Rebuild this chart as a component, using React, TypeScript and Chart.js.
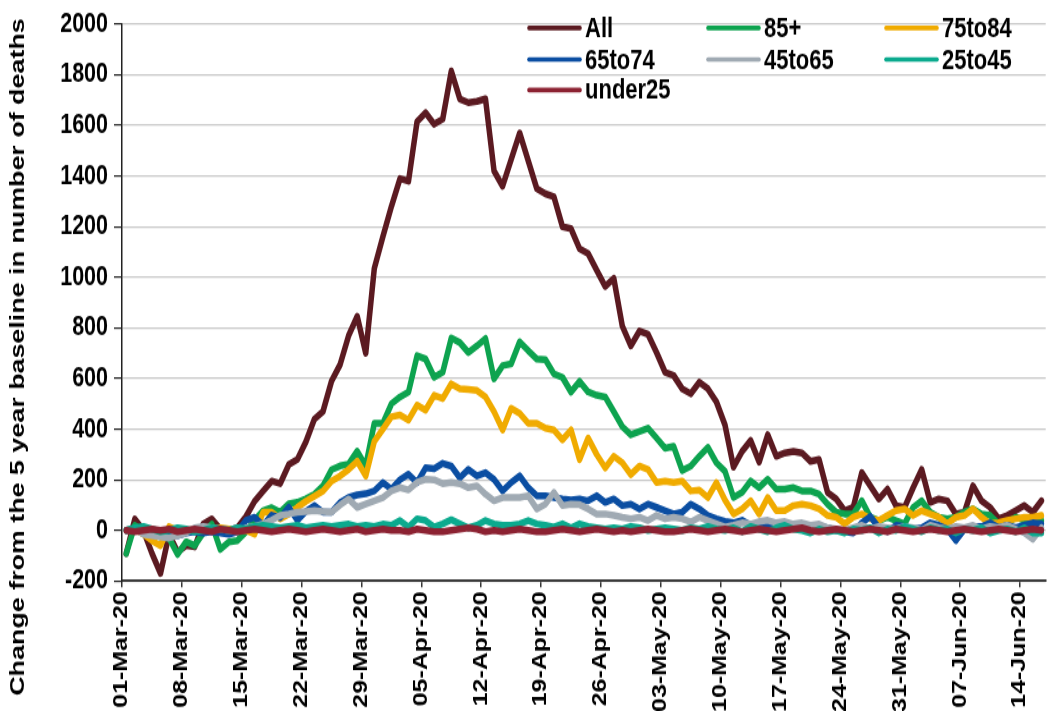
import React, { useEffect, useRef } from "react";
import { Chart, registerables } from "chart.js";

Chart.register(...registerables);

// Weekly tick labels (one every 7 days, starting 01-Mar-20)
const weekLabels = [
  "01-Mar-20", "08-Mar-20", "15-Mar-20", "22-Mar-20", "29-Mar-20", "05-Apr-20",
  "12-Apr-20", "19-Apr-20", "26-Apr-20", "03-May-20", "10-May-20", "17-May-20",
  "24-May-20", "31-May-20", "07-Jun-20", "14-Jun-20",
];
const dayCount = 108; // 01-Mar-20 .. 16-Jun-20

const seriesNames = ["All", "85+", "75to84", "65to74", "45to65", "25to45", "under25"];
const seriesColors = ["#5B1A21", "#0DA34F", "#F0AB00", "#0B4EA2", "#A0AAB3", "#0BAA8E", "#8C2232"];
const yTitle = "Change from the 5 year baseline in number of deaths";
const yMin = -200;
const yMax = 2000;
const yStep = 200;

const allAges = [
  -91, 45, 0, -90, -170, -15, -85, -60, -65, 25,
  45, 5, 0, 10, 55, 115, 155, 195, 185, 260,
  280, 350, 440, 470, 590, 655, 770, 846, 700, 1035,
  1160, 1280, 1390, 1380, 1615, 1650, 1605, 1625, 1815, 1705,
  1690, 1695, 1705, 1420, 1360, 1465, 1570, 1460, 1350, 1330,
  1318, 1200, 1192, 1113, 1094, 1028, 964, 996, 807, 729,
  788, 775, 703, 625, 612, 560, 540, 586, 560, 508,
  417, 250, 312, 355, 270, 378, 293, 306, 312, 306,
  273, 280, 150, 124, 78, 91, 228, 176, 124, 163,
  98, 91, 169, 241, 111, 124, 117, 65, 72, 176,
  117, 91, 46, 59, 78, 98, 72, 117,
];
const age85plus = [
  -91, 20, -5, -15, -25, -30, -95, -45, -60, -10,
  25, -75, -45, -40, -5, 40, 78, 90, 72, 105,
  111, 125, 143, 176, 240, 255, 262, 313, 255, 423,
  423, 500, 527, 547, 690, 677, 605, 625, 760, 742,
  703, 729, 758, 599, 651, 658, 745, 710, 677, 675,
  618, 605, 547, 589, 547, 534, 527, 469, 410, 378,
  391, 404, 365, 325, 332, 237, 254, 293, 328, 267,
  234, 130, 150, 195, 169, 202, 163, 163, 169, 156,
  156, 143, 104, 72, 65, 65, 117, 52, 39, 52,
  39, 26, 91, 117, 72, 52, 46, 52, 72, 85,
  65, 59, 26, 30, 52, 40, 35, 40,
];
const age75to84 = [
  0, 5, -15, -40, -60, 15, 0, -5, 5, 10,
  0, 10, 5, 5, 0, -15, 72, 72, 46, 65,
  91, 115, 135, 155, 195, 215, 241, 273, 215, 352,
  400, 449, 456, 436, 495, 475, 534, 521, 579, 560,
  557, 553, 527, 469, 397, 482, 462, 423, 423, 404,
  397, 358, 397, 280, 365, 300, 247, 293, 267, 221,
  254, 241, 189, 195, 189, 195, 156, 159, 130, 189,
  120, 65, 85, 117, 65, 130, 78, 78, 98, 104,
  98, 85, 59, 52, 26, 52, 65, 46, 39, 59,
  78, 85, 59, 78, 65, 52, 26, 52, 59, 85,
  52, 26, 30, 39, 46, 52, 52, 59,
];
const age65to74 = [
  0, 5, -5, -15, -20, -15, -20, -10, -5, -10,
  -5, -10, -15, -5, 40, 52, 20, 60, 50, 91,
  40, 75, 98, 72, 72, 110, 130, 140, 145, 156,
  189, 163, 200, 222, 189, 247, 244, 265, 254, 208,
  241, 215, 228, 202, 156, 189, 215, 169, 137, 137,
  130, 124, 120, 124, 117, 137, 111, 124, 98, 104,
  85, 104, 91, 78, 65, 72, 104, 85, 59, 46,
  36, 30, 40, 20, 25, 20, 15, 10, 20, 10,
  5, 15, 10, 0, -5, -10, 30, 55, 10, -5,
  20, 15, 5, 10, 30, 20, 5, -40, 5, 15,
  15, 30, 10, 20, 10, 20, 30, 25,
];
const age45to65 = [
  0, 5, -15, -20, -25, -30, -20, -10, 10, 15,
  10, 5, 0, -5, 10, 15, 26, 40, 59, 65,
  72, 75, 78, 75, 72, 100, 124, 91, 104, 117,
  130, 156, 169, 160, 190, 202, 200, 185, 189, 185,
  169, 176, 143, 117, 130, 130, 130, 137, 85, 104,
  150, 98, 104, 102, 85, 65, 65, 59, 52, 46,
  52, 39, 59, 46, 52, 46, 33, 52, 39, 26,
  13, 20, 30, 25, 35, 40, 30, 35, 25, 30,
  20, 25, 10, 5, 0, 10, 20, 5, 15, 10,
  5, 15, 10, 0, 20, 10, 5, 15, 10, 20,
  5, 15, 10, 20, 5, -10, -35, 10,
];
const age25to45 = [
  0, 10, 15, 5, -5, 0, 10, 5, -5, 0,
  10, 5, 0, 10, 5, 15, 20, 15, 10, 15,
  20, 10, 15, 20, 15, 20, 25, 15, 20, 15,
  25, 20, 39, 13, 46, 39, 13, 26, 42, 26,
  10, 20, 39, 26, 20, 20, 26, 39, 26, 20,
  13, 26, 10, 26, 15, 10, 5, 10, 5, 15,
  10, 0, 5, 10, 5, 0, 10, 5, 15, 5,
  0, 10, -5, 15, 5, -5, 10, 20, 5, 0,
  -10, 5, -5, 0, -10, 5, 0, 10, -10, 5,
  0, 15, 5, -5, 10, 0, 5, -10, 5, 0,
  10, -10, 0, 5, -5, 10, -10, -10,
];
const ageUnder25 = [
  0, -5, 0, 5, 0, 5, -5, 0, 5, 0,
  -5, 5, 0, -5, 0, 5, 0, -5, 0, 5,
  0, -5, 0, 5, 0, -5, 0, 5, -5, 0,
  5, 0, 0, -5, 5, 0, -5, -5, 0, 5,
  10, 5, -5, 0, -5, 0, 5, 0, -5, -5,
  0, 5, 0, -5, 0, 5, 0, -5, 0, -5,
  0, 5, 0, -5, -5, 0, 5, 0, -5, 0,
  5, 0, -5, 0, 5, 0, -5, 0, 5, 10,
  0, -5, 0, 5, 0, -5, 0, 5, 0, -5,
  5, 0, -5, 0, 5, 0, -5, 0, 5, 0,
  -5, 0, 5, 0, -5, 0, 5, 0,
];

// Canvas drawn at a lower internal height and stretched to 711px (as the reference is)
const W = 1049;
const H = 556;
const S = 711 / H;
const FONT = "'Liberation Sans', Arial, Helvetica, sans-serif";

export default function App() {
  const ref = useRef<HTMLCanvasElement | null>(null);

  useEffect(() => {
    if (!ref.current) return;
    const values = [allAges, age85plus, age75to84, age65to74, age45to65, age25to45, ageUnder25];

    const overlayPlugin = {
      id: "gridLegendAndTitle",
      afterDraw(chart: any) {
        const ctx = chart.ctx as CanvasRenderingContext2D;
        ctx.save();
        const cols = [527, 706, 884];
        const rows = [28, 59.5, 90].map((v) => v / S);
        seriesNames.forEach((name, k) => {
          const x = cols[k % 3];
          const y = rows[Math.floor(k / 3)];
          ctx.strokeStyle = seriesColors[k];
          ctx.lineWidth = 3.6;
          ctx.lineCap = "round";
          ctx.beginPath();
          ctx.moveTo(x + 2, y);
          ctx.lineTo(x + 53, y);
          ctx.stroke();
          ctx.fillStyle = "#000";
          ctx.font = `bold 22px ${FONT}`;
          ctx.textAlign = "left";
          ctx.textBaseline = "middle";
          ctx.fillText(name, x + 58, y + 1);
        });
        ctx.translate(18, 357 / S);
        ctx.rotate(-Math.PI / 2);
        ctx.font = `bold 21px ${FONT}`;
        ctx.fillStyle = "#000";
        ctx.textAlign = "center";
        ctx.textBaseline = "middle";
        ctx.fillText(yTitle, 0, 0);
        ctx.restore();
      },
    };

    const chart = new Chart(ref.current, {
      type: "line",
      data: {
        datasets: values.map((arr, k) => ({
          label: seriesNames[k],
          data: arr.map((y, i) => ({ x: i + 0.5, y })),
          borderColor: seriesColors[k],
          backgroundColor: seriesColors[k],
          borderWidth: 5.5,
          pointRadius: 0,
          pointHoverRadius: 0,
          tension: 0,
          fill: false,
          borderJoinStyle: "round",
          borderCapStyle: "round",
          order: seriesNames.length - 1 - k,
        })),
      },
      options: {
        responsive: false,
        animation: false,
        devicePixelRatio: 1,
        events: [],
        layout: { padding: { left: 0, right: W - 1045.7, top: 19 / S, bottom: 0 } },
        plugins: {
          legend: { display: false },
          tooltip: { enabled: false },
          title: { display: false },
        },
        scales: {
          x: {
            type: "linear",
            min: 0,
            max: dayCount,
            afterBuildTicks: (axis: any) => {
              axis.ticks = weekLabels.map((_, k) => ({ value: k * 7 }));
            },
            afterFit: (axis: any) => {
              axis.height = H - 581 / S;
            },
            ticks: {
              autoSkip: false,
              minRotation: 90,
              maxRotation: 90,
              padding: 3,
              color: "#000",
              font: { family: FONT, size: 19.5, weight: "bold" },
              callback: (_v: any, idx: number) => weekLabels[idx],
            },
            grid: {
              drawOnChartArea: false,
              drawTicks: true,
              tickLength: 5,
              tickColor: "#333",
              lineWidth: 1.5,
            },
            border: { display: true, color: "#3a3a3a", width: 2 },
          },
          y: {
            min: yMin,
            max: yMax,
            afterFit: (axis: any) => {
              axis.width = 122;
            },
            ticks: {
              stepSize: yStep,
              padding: 6,
              color: "#000",
              font: { family: FONT, size: 21.5, weight: "bold" },
              callback: (v: any) => String(v),
            },
            grid: {
              color: "#c8c8c8",
              lineWidth: 1.2,
              tickColor: "#222",
              tickLength: 8,
              drawTicks: true,
            },
            border: { display: true, color: "#222", width: 1.5 },
          },
        },
      } as any,
      plugins: [overlayPlugin],
    });

    return () => chart.destroy();
  }, []);

  return (
    <div style={{ position: "fixed", left: 0, top: 0, width: W, height: 711, background: "#fff" }}>
      <canvas
        ref={ref}
        width={W}
        height={H}
        style={{ width: `${W}px`, height: "711px", display: "block" }}
      />
    </div>
  );
}
